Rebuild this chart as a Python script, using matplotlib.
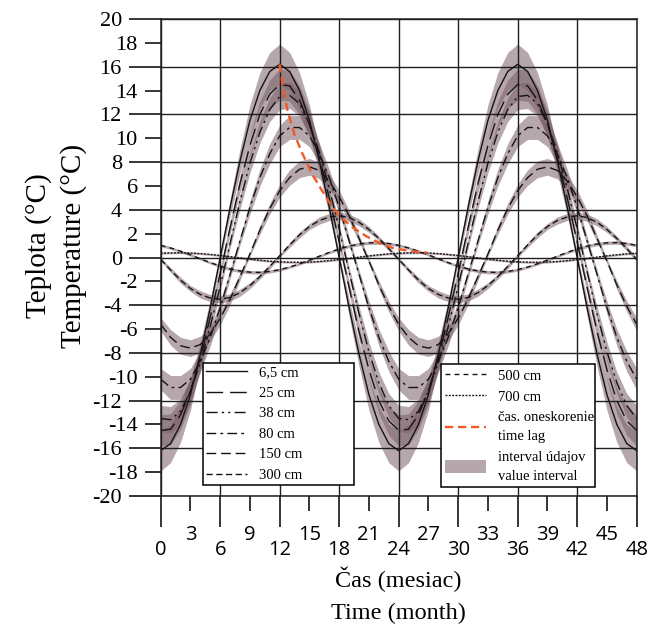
import matplotlib.pyplot as plt
from matplotlib.patches import Patch
from matplotlib.lines import Line2D

plt.rcParams['font.family'] = ['Liberation Serif', 'DejaVu Serif']

# mesiace 0..48
months = list(range(49))

# teploty podla hlbky (odcitane z grafu)
d6_5 = [-16.2, -15.6, -14.0, -11.5, -8.1, -4.2, 0.0, 4.2, 8.1, 11.5, 14.0, 15.6,
        16.2, 15.6, 14.0, 11.5, 8.1, 4.2, 0.0, -4.2, -8.1, -11.5, -14.0, -15.6,
        -16.2, -15.6, -14.0, -11.5, -8.1, -4.2, 0.0, 4.2, 8.1, 11.5, 14.0, 15.6,
        16.2, 15.6, 14.0, 11.5, 8.1, 4.2, 0.0, -4.2, -8.1, -11.5, -14.0, -15.6,
        -16.2]
d25 = [-14.5, -14.4, -13.2, -11.2, -8.4, -5.0, -1.3, 2.5, 6.2, 9.4, 12.0, 13.7,
       14.5, 14.4, 13.2, 11.2, 8.4, 5.0, 1.3, -2.5, -6.2, -9.4, -12.0, -13.7,
       -14.5, -14.4, -13.2, -11.2, -8.4, -5.0, -1.3, 2.5, 6.2, 9.4, 12.0, 13.7,
       14.5, 14.4, 13.2, 11.2, 8.4, 5.0, 1.3, -2.5, -6.2, -9.4, -12.0, -13.7,
       -14.5]
d38 = [-13.5, -13.6, -12.9, -11.2, -8.8, -5.8, -2.4, 1.2, 4.7, 7.9, 10.5, 12.4,
       13.5, 13.6, 12.9, 11.2, 8.8, 5.8, 2.4, -1.2, -4.7, -7.9, -10.5, -12.4,
       -13.5, -13.6, -12.9, -11.2, -8.8, -5.8, -2.4, 1.2, 4.7, 7.9, 10.5, 12.4,
       13.5, 13.6, 12.9, 11.2, 8.8, 5.8, 2.4, -1.2, -4.7, -7.9, -10.5, -12.4,
       -13.5]
d80 = [-10.2, -10.9, -10.9, -10.2, -8.7, -6.7, -4.2, -1.4, 1.4, 4.2, 6.7, 8.7,
       10.2, 10.9, 10.9, 10.2, 8.7, 6.7, 4.2, 1.4, -1.4, -4.2, -6.7, -8.7,
       -10.2, -10.9, -10.9, -10.2, -8.7, -6.7, -4.2, -1.4, 1.4, 4.2, 6.7, 8.7,
       10.2, 10.9, 10.9, 10.2, 8.7, 6.7, 4.2, 1.4, -1.4, -4.2, -6.7, -8.7,
       -10.2]
d150 = [-5.6, -6.7, -7.4, -7.6, -7.3, -6.4, -5.1, -3.5, -1.6, 0.3, 2.3, 4.1,
        5.6, 6.7, 7.4, 7.6, 7.3, 6.4, 5.1, 3.5, 1.6, -0.3, -2.3, -4.1,
        -5.6, -6.7, -7.4, -7.6, -7.3, -6.4, -5.1, -3.5, -1.6, 0.3, 2.3, 4.1,
        5.6, 6.7, 7.4, 7.6, 7.3, 6.4, 5.1, 3.5, 1.6, -0.3, -2.3, -4.1,
        -5.6]
d300 = [-0.15, -1.05, -1.9, -2.6, -3.1, -3.4, -3.5, -3.35, -2.95, -2.35, -1.6, -0.75,
        0.15, 1.05, 1.9, 2.6, 3.1, 3.4, 3.5, 3.35, 2.95, 2.35, 1.6, 0.75,
        -0.15, -1.05, -1.9, -2.6, -3.1, -3.4, -3.5, -3.35, -2.95, -2.35, -1.6, -0.75,
        0.15, 1.05, 1.9, 2.6, 3.1, 3.4, 3.5, 3.35, 2.95, 2.35, 1.6, 0.75,
        -0.15]
d500 = [1.02, 0.8, 0.53, 0.22, -0.11, -0.43, -0.72, -0.96, -1.13, -1.23, -1.25, -1.17,
        -1.02, -0.8, -0.53, -0.22, 0.11, 0.43, 0.72, 0.96, 1.13, 1.23, 1.25, 1.17,
        1.02, 0.8, 0.53, 0.22, -0.11, -0.43, -0.72, -0.96, -1.13, -1.23, -1.25, -1.17,
        -1.02, -0.8, -0.53, -0.22, 0.11, 0.43, 0.72, 0.96, 1.13, 1.23, 1.25, 1.17,
        1.02]
d700 = [0.36, 0.39, 0.4, 0.38, 0.33, 0.26, 0.17, 0.07, -0.03, -0.14, -0.23, -0.31,
        -0.36, -0.39, -0.4, -0.38, -0.33, -0.26, -0.17, -0.07, 0.03, 0.14, 0.23, 0.31,
        0.36, 0.39, 0.4, 0.38, 0.33, 0.26, 0.17, 0.07, -0.03, -0.14, -0.23, -0.31,
        -0.36, -0.39, -0.4, -0.38, -0.33, -0.26, -0.17, -0.07, 0.03, 0.14, 0.23, 0.31,
        0.36]

# polovicna sirka intervalu udajov
s6_5 = [1.7, 1.6, 1.5, 1.3, 1.0, 0.7, 0.3, 0.7, 1.0, 1.3, 1.5, 1.6,
        1.7, 1.6, 1.5, 1.3, 1.0, 0.7, 0.3, 0.7, 1.0, 1.3, 1.5, 1.6,
        1.7, 1.6, 1.5, 1.3, 1.0, 0.7, 0.3, 0.7, 1.0, 1.3, 1.5, 1.6,
        1.7, 1.6, 1.5, 1.3, 1.0, 0.7, 0.3, 0.7, 1.0, 1.3, 1.5, 1.6,
        1.7]
s25 = [1.3, 1.3, 1.2, 1.1, 0.9, 0.6, 0.4, 0.5, 0.7, 0.9, 1.1, 1.2,
       1.3, 1.3, 1.2, 1.1, 0.9, 0.6, 0.4, 0.5, 0.7, 0.9, 1.1, 1.2,
       1.3, 1.3, 1.2, 1.1, 0.9, 0.6, 0.4, 0.5, 0.7, 0.9, 1.1, 1.2,
       1.3, 1.3, 1.2, 1.1, 0.9, 0.6, 0.4, 0.5, 0.7, 0.9, 1.1, 1.2,
       1.3]
s38 = [1.1, 1.1, 1.05, 1.0, 0.8, 0.6, 0.4, 0.4, 0.6, 0.8, 0.9, 1.0,
       1.1, 1.1, 1.05, 1.0, 0.8, 0.6, 0.4, 0.4, 0.6, 0.8, 0.9, 1.0,
       1.1, 1.1, 1.05, 1.0, 0.8, 0.6, 0.4, 0.4, 0.6, 0.8, 0.9, 1.0,
       1.1, 1.1, 1.05, 1.0, 0.8, 0.6, 0.4, 0.4, 0.6, 0.8, 0.9, 1.0,
       1.1]
s80 = [0.9, 1.0, 1.0, 0.9, 0.85, 0.7, 0.55, 0.35, 0.35, 0.55, 0.7, 0.85,
       0.9, 1.0, 1.0, 0.9, 0.85, 0.7, 0.55, 0.35, 0.35, 0.55, 0.7, 0.85,
       0.9, 1.0, 1.0, 0.9, 0.85, 0.7, 0.55, 0.35, 0.35, 0.55, 0.7, 0.85,
       0.9, 1.0, 1.0, 0.9, 0.85, 0.7, 0.55, 0.35, 0.35, 0.55, 0.7, 0.85,
       0.9]
s150 = [0.55, 0.65, 0.7, 0.7, 0.7, 0.6, 0.55, 0.45, 0.3, 0.2, 0.35, 0.45,
        0.55, 0.65, 0.7, 0.7, 0.7, 0.6, 0.55, 0.45, 0.3, 0.2, 0.35, 0.45,
        0.55, 0.65, 0.7, 0.7, 0.7, 0.6, 0.55, 0.45, 0.3, 0.2, 0.35, 0.45,
        0.55, 0.65, 0.7, 0.7, 0.7, 0.6, 0.55, 0.45, 0.3, 0.2, 0.35, 0.45,
        0.55]
s300 = [0.15, 0.2, 0.25, 0.25, 0.3, 0.3, 0.3, 0.3, 0.3, 0.25, 0.2, 0.2,
        0.15, 0.2, 0.25, 0.25, 0.3, 0.3, 0.3, 0.3, 0.3, 0.25, 0.2, 0.2,
        0.15, 0.2, 0.25, 0.25, 0.3, 0.3, 0.3, 0.3, 0.3, 0.25, 0.2, 0.2,
        0.15, 0.2, 0.25, 0.25, 0.3, 0.3, 0.3, 0.3, 0.3, 0.25, 0.2, 0.2,
        0.15]
s500 = [0.12, 0.11, 0.1, 0.1, 0.1, 0.11, 0.12, 0.13, 0.14, 0.14, 0.14, 0.13,
        0.12, 0.11, 0.1, 0.1, 0.1, 0.11, 0.12, 0.13, 0.14, 0.14, 0.14, 0.13,
        0.12, 0.11, 0.1, 0.1, 0.1, 0.11, 0.12, 0.13, 0.14, 0.14, 0.14, 0.13,
        0.12, 0.11, 0.1, 0.1, 0.1, 0.11, 0.12, 0.13, 0.14, 0.14, 0.14, 0.13,
        0.12]
s700 = [0.08, 0.08, 0.08, 0.08, 0.08, 0.08, 0.08, 0.08, 0.08, 0.08, 0.08, 0.08,
        0.08, 0.08, 0.08, 0.08, 0.08, 0.08, 0.08, 0.08, 0.08, 0.08, 0.08, 0.08,
        0.08, 0.08, 0.08, 0.08, 0.08, 0.08, 0.08, 0.08, 0.08, 0.08, 0.08, 0.08,
        0.08, 0.08, 0.08, 0.08, 0.08, 0.08, 0.08, 0.08, 0.08, 0.08, 0.08, 0.08,
        0.08]

# casove oneskorenie (krivka cez maxima)
lag_t = [12.0, 12.3, 12.8, 13.5, 14.3, 15.2, 16.2, 17.1, 18.1, 19.4, 20.8, 22.1, 23.4, 25.1, 26.9]
lag_v = [16.2, 14.4, 12.3, 10.3, 8.7, 7.1, 5.7, 4.5, 3.4, 2.5, 1.75, 1.2, 0.8, 0.55, 0.4]

depth_labels = ['6,5 cm', '25 cm', '38 cm', '80 cm', '150 cm', '300 cm', '500 cm', '700 cm']
series = [d6_5, d25, d38, d80, d150, d300, d500, d700]
spreads = [s6_5, s25, s38, s80, s150, s300, s500, s700]
dash_styles = [None, (12, 5), (8, 3, 1.6, 3, 1.6, 3), (7, 3, 2, 3), (7, 3.5), (4.5, 2.5), (3.5, 3), (1.4, 1.0)]

x_major = [0, 6, 12, 18, 24, 30, 36, 42, 48]
x_minor = [3, 9, 15, 21, 27, 33, 39, 45]
y_major = [-20, -16, -12, -8, -4, 0, 4, 8, 12, 16, 20]
y_minor = [-18, -14, -10, -6, -2, 2, 6, 10, 14, 18]

band_color = '#7a5f68'
line_color = '#141414'
lag_color = '#f05a28'

fig = plt.figure(figsize=(6.49, 6.33), dpi=100)
ax = fig.add_axes([0.2476, 0.2164, 0.7334, 0.7536])

for vals, sp in zip(series, spreads):
    lo = [v - s for v, s in zip(vals, sp)]
    hi = [v + s for v, s in zip(vals, sp)]
    ax.fill_between(months, lo, hi, color=band_color, alpha=0.55, lw=0, zorder=1)

handles = []
for vals, lab, ds in zip(series, depth_labels, dash_styles):
    ln, = ax.plot(months, vals, color=line_color, lw=1.0, label=lab, zorder=2)
    if ds is not None:
        ln.set_dashes(ds)
    handles.append(ln)

lag_line, = ax.plot(lag_t, lag_v, color=lag_color, lw=1.7, dashes=(3.5, 2), zorder=3)

ax.set_xlim(0, 48)
ax.set_ylim(-20, 20)

ax.set_xticks(x_major, [str(v) for v in x_major], fontfamily='Open Sans', fontsize=14.5)
ax.set_xticks(x_minor, [str(v) for v in x_minor], minor=True, fontfamily='Open Sans', fontsize=14.5)
ax.set_yticks(y_major, [str(v) for v in y_major], fontsize=16)
ax.set_yticks(y_minor, [str(v) for v in y_minor], minor=True, fontsize=16)

ax.tick_params(axis='x', which='major', direction='out', length=22, width=1.1, pad=10)
ax.tick_params(axis='x', which='minor', direction='out', length=11, width=1.1, pad=10)
ax.tick_params(axis='y', which='major', direction='out', length=23, width=1.1, pad=5)
ax.tick_params(axis='y', which='minor', direction='out', length=11.5, width=1.1, pad=5)

ax.grid(True, which='major', color='#1f1f1f', lw=1.0)
ax.set_axisbelow('line')
for sp in ax.spines.values():
    sp.set_linewidth(1.1)
    sp.set_color('#1f1f1f')

ax.set_xlabel('Čas (mesiac)\nTime (month)', fontsize=17.5, linespacing=1.7)
ax.xaxis.set_label_coords(0.5, -0.147)
ax.set_ylabel('Teplota (°C)\nTemperature (°C)', fontsize=21, linespacing=1.4)
ax.yaxis.set_label_coords(-0.155, 0.525)

leg_kw = dict(loc='lower left', mode='expand', fontsize=10.5, handlelength=2.8,
              handletextpad=0.8, labelspacing=0.5, borderaxespad=0,
              fancybox=False, edgecolor='black', framealpha=1)

leg1 = ax.legend(handles[:6], depth_labels[:6], bbox_to_anchor=(0.089, 0.023, 0.317, 0.254),
                 borderpad=0.22, **leg_kw)
leg1.get_frame().set_linewidth(1.1)
ax.add_artist(leg1)

band_patch = Patch(facecolor=band_color, alpha=0.55, edgecolor='none')
lag_handle = Line2D([], [], color=lag_color, lw=1.7, dashes=(3.5, 2))
leg2 = ax.legend(handles[6:] + [lag_handle, band_patch],
                 depth_labels[6:] + ['čas. oneskorenie\ntime lag', 'interval údajov\nvalue interval'],
                 bbox_to_anchor=(0.589, 0.019, 0.323, 0.254), handleheight=0.9,
                 borderpad=0.3, **leg_kw)
leg2.get_frame().set_linewidth(1.1)
for t in leg2.get_texts():
    t.set_linespacing(1.6)

fig.savefig('out.png', dpi=100)
